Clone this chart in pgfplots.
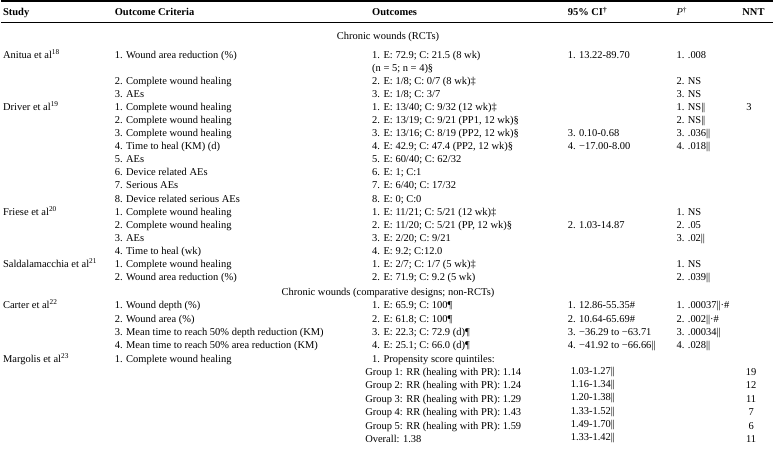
\documentclass[border=0pt]{standalone}
\usepackage{pgfplots}
\pgfplotsset{compat=1.18}
\usepackage{fontspec}
\setmainfont{Liberation Serif}
\newcommand\fs{\fontsize{10.5bp}{13bp}\selectfont}
\newcommand\dbar{|\kern-0.03em|}
\tikzset{T/.style={anchor=base west, inner sep=0pt, font=\fs}}
\newcommand\R[7]{%
 \node[T] at (axis cs:2,#1) {#2};
 \node[T] at (axis cs:114,#1) {#3};
 \node[T] at (axis cs:372,#1) {#4};
 \node[T] at (axis cs:568,#1) {#5};
 \node[T] at (axis cs:677,#1) {#6};
 \node[T] at (axis cs:747,#1) {#7};}
\newcommand\G[4]{%
 \node[T] at (axis cs:365,#1) {#2};
 \node[T] at (axis cs:571,#1-1.5) {#3};
 \node[anchor=base, inner sep=0pt, font=\fs] at (axis cs:752,#1) {#4};}
\begin{document}
\begin{tikzpicture}
\begin{axis}[scale only axis, width=774bp, height=453bp,
  xmin=0, xmax=774, ymin=0, ymax=453, y dir=reverse,
  hide axis, clip=false]
\addplot[draw=none] coordinates {(0,0) (774,453)};
\addplot[black, line width=1.8bp] coordinates {(0,1.1) (774,1.1)};
\addplot[black, line width=0.8bp] coordinates {(0,22.0) (774,22.0)};
% header
\R{16}{\bfseries Study}{\bfseries Outcome Criteria}{\bfseries Outcomes}{\bfseries 95\% CI\textsuperscript{†}}{\itshape P\textsuperscript{\upshape †}}{\kern-4bp\bfseries NNT}
\node[anchor=base, inner sep=0pt, font=\fs] at (axis cs:388,40) {Chronic wounds (RCTs)};
% Anitua
\R{58.4}{Anitua et al\textsuperscript{18}}{1. Wound area reduction (\%)}{1. E: 72.9; C: 21.5 (8 wk)}{1. 13.22-89.70}{1. .008}{}
\R{71.5}{}{}{(n = 5; n = 4)§}{}{}{}
\R{84.6}{}{2. Complete wound healing}{2. E: 1/8; C: 0/7 (8 wk)‡}{}{2. NS}{}
\R{97.7}{}{3. AEs}{3. E: 1/8; C: 3/7}{}{3. NS}{}
% Driver
\R{110.8}{Driver et al\textsuperscript{19}}{1. Complete wound healing}{1. E: 13/40; C: 9/32 (12 wk)‡}{}{1. NS\dbar}{3}
\R{123.9}{}{2. Complete wound healing}{2. E: 13/19; C: 9/21 (PP1, 12 wk)§}{}{2. NS\dbar}{}
\R{137.0}{}{3. Complete wound healing}{3. E: 13/16; C: 8/19 (PP2, 12 wk)§}{3. 0.10-0.68}{3. .036\dbar}{}
\R{150.1}{}{4. Time to heal (KM) (d)}{4. E: 42.9; C: 47.4 (PP2, 12 wk)§}{4. −17.00-8.00}{4. .018\dbar}{}
\R{163.2}{}{5. AEs}{5. E: 60/40; C: 62/32}{}{}{}
\R{176.3}{}{6. Device related AEs}{6. E: 1; C:1}{}{}{}
\R{189.4}{}{7. Serious AEs}{7. E: 6/40; C: 17/32}{}{}{}
\R{202.5}{}{8. Device related serious AEs}{8. E: 0; C:0}{}{}{}
% Friese
\R{215.6}{Friese et al\textsuperscript{20}}{1. Complete wound healing}{1. E: 11/21; C: 5/21 (12 wk)‡}{}{1. NS}{}
\R{228.7}{}{2. Complete wound healing}{2. E: 11/20; C: 5/21 (PP, 12 wk)§}{2. 1.03-14.87}{2. .05}{}
\R{241.8}{}{3. AEs}{3. E: 2/20; C: 9/21}{}{3. .02\dbar}{}
\R{254.9}{}{4. Time to heal (wk)}{4. E: 9.2; C:12.0}{}{}{}
% Saldalamacchia
\R{268.0}{Saldalamacchia et al\textsuperscript{21}}{1. Complete wound healing}{1. E: 2/7; C: 1/7 (5 wk)‡}{}{1. NS}{}
\R{281.1}{}{2. Wound area reduction (\%)}{2. E: 71.9; C: 9.2 (5 wk)}{}{2. .039\dbar}{}
\node[anchor=base, inner sep=0pt, font=\fs] at (axis cs:388,296.4) {Chronic wounds (comparative designs; non-RCTs)};
% Carter
\R{309.4}{Carter et al\textsuperscript{22}}{1. Wound depth (\%)}{1. E: 65.9; C: 100¶}{1. 12.86-55.35\#}{1. .00037\dbar·\#}{}
\R{322.8}{}{2. Wound area (\%)}{2. E: 61.8; C: 100¶}{2. 10.64-65.69\#}{2. .002\dbar·\#}{}
\R{336.2}{}{3. Mean time to reach 50\% depth reduction (KM)}{3. E: 22.3; C: 72.9 (d)¶}{3. −36.29 to −63.71}{3. .00034\dbar}{}
\R{349.6}{}{4. Mean time to reach 50\% area reduction (KM)}{4. E: 25.1; C: 66.0 (d)¶}{4. −41.92 to −66.66\dbar}{4. .028\dbar}{}
% Margolis
\R{363.0}{Margolis et al\textsuperscript{23}}{1. Complete wound healing}{1. Propensity score quintiles:}{}{}{}
\G{376.4}{Group 1: RR (healing with PR): 1.14}{1.03-1.27\dbar}{19}
\G{389.8}{Group 2: RR (healing with PR): 1.24}{1.16-1.34\dbar}{12}
\G{403.2}{Group 3: RR (healing with PR): 1.29}{1.20-1.38\dbar}{11}
\G{416.6}{Group 4: RR (healing with PR): 1.43}{1.33-1.52\dbar}{7}
\G{430.0}{Group 5: RR (healing with PR): 1.59}{1.49-1.70\dbar}{6}
\G{443.4}{Overall: 1.38}{1.33-1.42\dbar}{11}
\end{axis}
\end{tikzpicture}
\end{document}
